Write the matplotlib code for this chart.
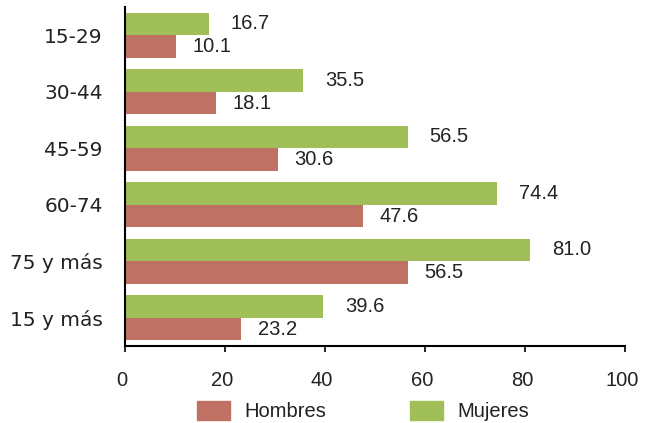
import matplotlib
matplotlib.use("Agg")
import matplotlib.pyplot as plt
from matplotlib.patches import Patch
from matplotlib import font_manager
from matplotlib.transforms import ScaledTranslation
import numpy as np

try:
    font_manager.findfont("Liberation Sans Narrow", fallback_to_default=False)
    narrow = "Liberation Sans Narrow"
    nsize = 17
except Exception:
    narrow = "Liberation Sans"
    nsize = 14.5

plt.rcParams['font.family'] = [narrow, 'DejaVu Sans']

categories = ["15-29", "30-44", "45-59", "60-74", "75 y más", "15 y más"]
hombres = [10.1, 18.1, 30.6, 47.6, 56.5, 23.2]
mujeres = [16.7, 35.5, 56.5, 74.4, 81.0, 39.6]

c_h = "#BF7163"
c_m = "#A0BF58"
tc = "#222222"

fig = plt.figure(figsize=(6.5, 4.23), dpi=100)
ax = fig.add_axes([125/650, 1-346/423, 500/650, 339/423])

y = np.arange(len(categories))
h = 0.4
ax.barh(y - h/2, mujeres, height=h, color=c_m)
ax.barh(y + h/2, hombres, height=h, color=c_h)

for i in range(len(categories)):
    ax.annotate(f"{mujeres[i]:.1f}", (mujeres[i], y[i] - h/2), xytext=(16, 0),
                textcoords="offset points", va="center", ha="left", fontsize=nsize, color=tc)
    ax.annotate(f"{hombres[i]:.1f}", (hombres[i], y[i] + h/2), xytext=(12, 0),
                textcoords="offset points", va="center", ha="left", fontsize=nsize, color=tc)

ax.set_xlim(0, 100)
ax.set_ylim(5.5, -0.5)
ax.set_yticks(y)
ax.set_yticklabels(categories, fontsize=14.5, color=tc, family=['DejaVu Sans'])
ax.tick_params(axis='y', length=0, pad=16)
ax.set_xticks([0, 20, 40, 60, 80, 100])
ax.tick_params(axis='x', length=4, width=1.2, labelsize=nsize, labelcolor=tc, pad=14, direction='out')
for lab in ax.get_xticklabels():
    lab.set_transform(lab.get_transform() + ScaledTranslation(-3/100, 0, fig.dpi_scale_trans))
for s in ["top", "right"]:
    ax.spines[s].set_visible(False)
for s in ["left", "bottom"]:
    ax.spines[s].set_linewidth(1.5)
    ax.spines[s].set_color("black")

handles = [Patch(color=c_h, label="Hombres"), Patch(color=c_m, label="Mujeres")]
fs_px = nsize * 100 / 72
fig.legend(handles=handles, loc="center", bbox_to_anchor=(363/650, 1-411/423), ncol=2,
           frameon=False, fontsize=nsize, handlelength=33/fs_px, handleheight=22/fs_px,
           handletextpad=14/fs_px, columnspacing=84/fs_px, labelcolor=tc)

fig.savefig("out.png", dpi=100)
